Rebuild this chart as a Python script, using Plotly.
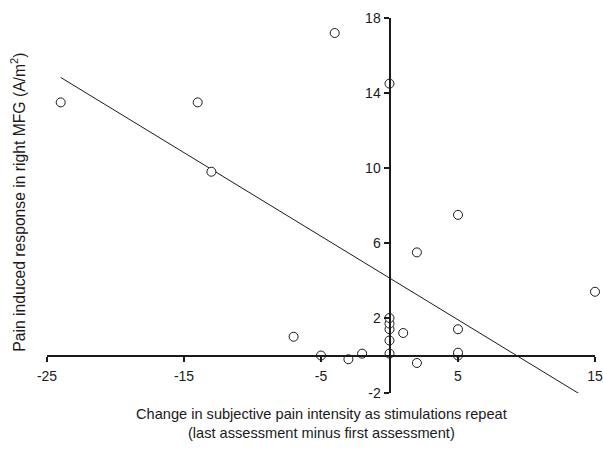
import plotly.graph_objects as go

# Data
x_change = [-24, -14, -13, -4, 0, 5, 2, 15, -7, -5, -3, -2, 0, 0, 0, 0, 0, 1, 2, 5, 5, 5]
y_response = [13.5, 13.5, 9.8, 17.2, 14.5, 7.5, 5.5, 3.4, 1.0, 0.0, -0.2, 0.1, 0.1, 0.8,
              1.4, 1.7, 2.0, 1.2, -0.4, 1.4, 0.0, 0.15]

# Regression line endpoints
line_x = [-24.0, 13.85]
line_y = [14.83, -2.04]

x_ticks = [-25, -15, -5, 5, 15]
x_tick_labels = ["-25", "-15", "-5", "5", "15"]
y_ticks = [-2, 2, 6, 10, 14, 18]
y_tick_labels = ["-2", "2", "6", "10", "14", "18"]

x_range = [-25, 15]
y_range = [-2, 18]

font_family = "Liberation Sans, Arial, sans-serif"
ink = "#1a1a1a"

fig = go.Figure()
fig.add_trace(go.Scatter(
    x=line_x, y=line_y, mode="lines",
    line=dict(color=ink, width=1), cliponaxis=False, showlegend=False, hoverinfo="skip"))
fig.add_trace(go.Scatter(
    x=x_change, y=y_response, mode="markers",
    marker=dict(symbol="circle", size=9, color="white", line=dict(color=ink, width=1)),
    cliponaxis=False, showlegend=False))

xpos = (0 - y_range[0]) / (y_range[1] - y_range[0])
ypos = (0 - x_range[0]) / (x_range[1] - x_range[0])

fig.update_layout(
    width=603, height=450,
    margin=dict(l=47, r=8, t=18, b=57, autoexpand=False),
    paper_bgcolor="white", plot_bgcolor="white",
    font=dict(family=font_family, size=14, color=ink),
    xaxis=dict(range=x_range, tickmode="array", tickvals=x_ticks, ticktext=x_tick_labels,
               showline=True, linecolor=ink, linewidth=2,
               ticks="outside", ticklen=5, tickwidth=2, tickcolor=ink,
               showgrid=False, zeroline=False, anchor="free", position=xpos,
               automargin=False, ticklabelstandoff=3, tickfont=dict(size=14, color=ink)),
    yaxis=dict(range=y_range, tickmode="array", tickvals=y_ticks, ticktext=y_tick_labels,
               showline=True, linecolor=ink, linewidth=2,
               ticks="outside", ticklen=5, tickwidth=2, tickcolor=ink,
               showgrid=False, zeroline=False, anchor="free", position=ypos,
               automargin=False, tickfont=dict(size=14, color=ink)),
    annotations=[
        dict(text="Change in subjective pain intensity as stimulations repeat<br>(last assessment minus first assessment)",
             x=0.5, y=-0.028, xref="paper", yref="paper", xanchor="center", yanchor="top",
             showarrow=False, font=dict(size=14.6, color=ink), align="center"),
        dict(text="Pain induced response in right MFG (A/m<sup>2</sup>)",
             x=-0.053, y=0.51, xref="paper", yref="paper", xanchor="center", yanchor="middle",
             textangle=-90, showarrow=False, font=dict(size=15.7, color=ink)),
    ],
)

fig.write_html("out.html", config={"displayModeBar": False},
               post_script="document.body.style.margin='0';document.body.style.padding='0';")
